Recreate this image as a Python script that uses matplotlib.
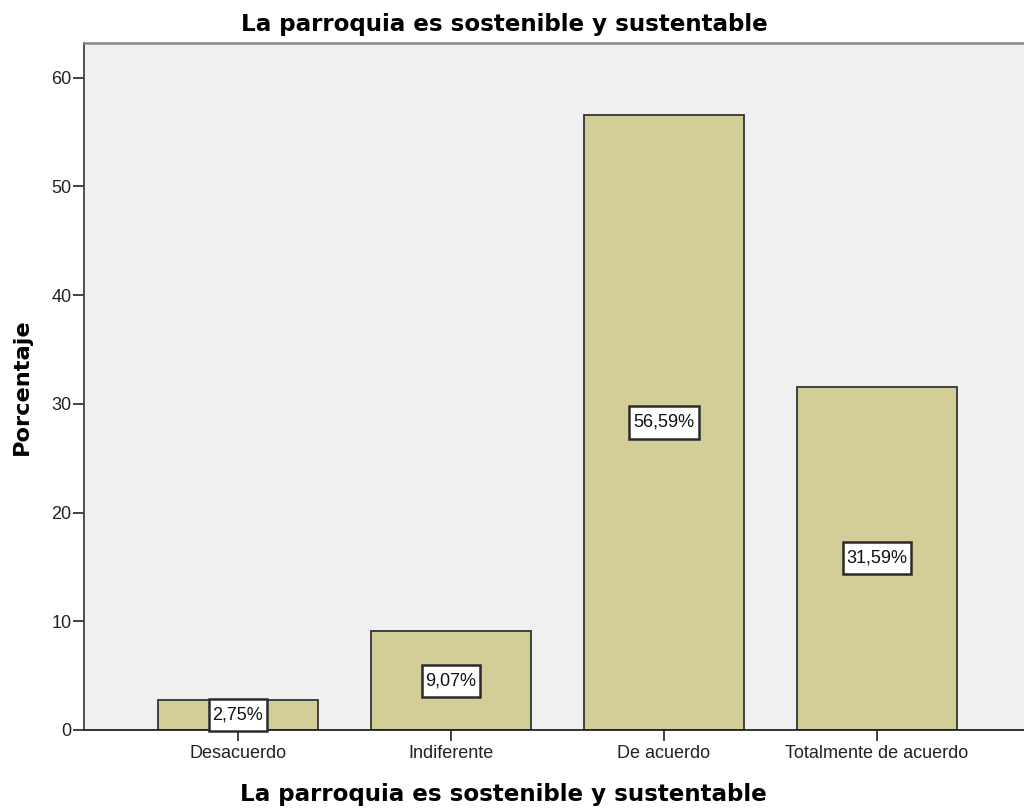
import matplotlib
matplotlib.use("Agg")
import matplotlib.pyplot as plt
from matplotlib.path import Path

categories = ["Desacuerdo", "Indiferente", "De acuerdo", "Totalmente de acuerdo"]
values = [2.75, 9.07, 56.59, 31.59]
labels = ["2,75%", "9,07%", "56,59%", "31,59%"]
yticks = [0, 10, 20, 30, 40, 50, 60]
title = "La parroquia es sostenible y sustentable"
xlabel = "La parroquia es sostenible y sustentable"
ylabel = "Porcentaje"


def label_box(x0, y0, width, height, mutation_size):
    px = 0.22 * mutation_size
    py = 0.42 * mutation_size
    x0, y0 = x0 - px, y0 - py
    x1, y1 = x0 + width + 2 * px, y0 + height + 2 * py
    return Path([(x0, y0), (x1, y0), (x1, y1), (x0, y1), (x0, y0)], closed=True)


fig = plt.figure(figsize=(10.24, 8.08), dpi=100)
ax = fig.add_axes([84/1024, 1-730/808, (1031-84)/1024, (730-43)/808])
ax.set_facecolor("#F0F0F0")

x = list(range(len(categories)))
ax.bar(x, values, width=0.75, color="#D3CE97", edgecolor="#333333", linewidth=1.3, zorder=2)

for xi, v, lab in zip(x, values, labels):
    ax.text(xi, v/2, lab, ha="center", va="center", fontsize=13, family="Liberation Sans",
            color="#111111",
            bbox=dict(boxstyle=label_box, facecolor="white", edgecolor="#2a2a2a", linewidth=1.8),
            zorder=3)

ax.set_xlim(-0.723, 3.723)
ax.set_ylim(0, 63.2)
ax.set_xticks(x)
ax.set_xticklabels(categories, fontsize=13, family="Liberation Sans", color="#222222")
ax.set_yticks(yticks)
ax.set_yticklabels([str(t) for t in yticks], fontsize=13, family="Liberation Sans", color="#222222")
ax.tick_params(axis="x", direction="out", length=8, width=1.3, color="#333333", pad=3)
ax.tick_params(axis="y", direction="out", length=8, width=1.3, color="#333333", pad=1)

ax.spines["right"].set_visible(False)
ax.spines["top"].set_color("#888888")
ax.spines["top"].set_linewidth(1.8)
ax.spines["left"].set_color("#444444")
ax.spines["left"].set_linewidth(1.3)
ax.spines["bottom"].set_color("#222222")
ax.spines["bottom"].set_linewidth(1.3)

fig.text(504/1024, 1-31/808, title, ha="center", va="baseline", fontsize=16.6, fontweight="bold", family="DejaVu Sans")
fig.text(503/1024, 1-801/808, xlabel, ha="center", va="baseline", fontsize=16.6, fontweight="bold", family="DejaVu Sans")
fig.text(22/1024, 1-387/808, ylabel, ha="center", va="center", rotation=90, fontsize=16.2, fontweight="bold", family="DejaVu Sans")

fig.savefig("out.png", dpi=100)
